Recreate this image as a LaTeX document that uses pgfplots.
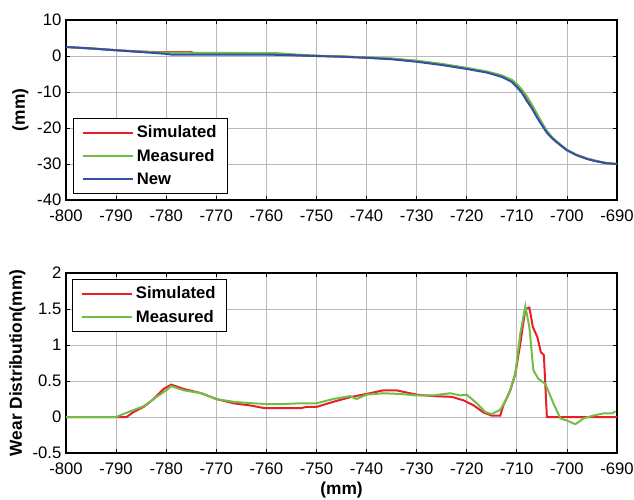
\documentclass[border=0pt]{standalone}
\usepackage{fontspec}
\setmainfont{Liberation Sans}
\usepackage{pgfplots}
\pgfplotsset{compat=1.18}

\definecolor{simred}{RGB}{232,30,40}
\definecolor{measgreen}{RGB}{112,190,70}
\definecolor{newblue}{RGB}{50,80,170}

\pgfplotsset{
  mlab/.style={
    scale only axis,
    width=413.25pt, height=135pt,
    xmin=-800, xmax=-690,
    xtick={-800,-790,...,-690},
    grid=major,
    grid style={gray!55, line width=0.5pt},
    tick align=inside,
    major tick length=3pt,
    axis line style={line width=0.8pt},
    tick style={black, line width=0.6pt},
    /pgf/number format/assume math mode=true,
    tick label style={font=\fontsize{12.5}{14}\selectfont},
    xticklabel style={yshift=-3.5pt},
    legend cell align=left,
    legend style={draw=black, line width=0.8pt, fill=white,
      font=\bfseries\fontsize{12.5}{14}\selectfont,
      inner xsep=6pt, inner ysep=3.5pt, row sep=3pt},
    legend image code/.code={\draw[#1,line width=1.5pt] (0pt,0pt) -- (38pt,0pt);},
  }
}

\begin{document}
\begin{tikzpicture}
\useasboundingbox (0,0) rectangle (475.5pt,374.25pt);

% top: profiles
\begin{axis}[mlab, at={(49.5pt,224.25pt)}, anchor=south west,
  ymin=-40, ymax=10, ytick={-40,-30,...,10},
  ylabel={(mm)},
  every axis y label/.style={at={(axis description cs:-0.0826,0.5)},rotate=90,anchor=center,
    font=\bfseries\fontsize{13}{15}\selectfont},
  legend style={at={(axis description cs:0.0127,0.033)}, anchor=south west},
]
\addplot[simred, line width=1.5pt] coordinates {
 (-800,2.5)(-795,2.1)(-790,1.6)(-786,1.3)(-782,1.1)(-775,1.1)(-774,0.6)(-760,0.5)
 (-754,0.2)(-750,0)(-745,-0.15)(-740,-0.45)(-735,-0.8)(-730,-1.4)(-725,-2.3)
 (-720,-3.4)(-716,-4.4)(-713,-5.5)(-711,-6.8)(-710,-8.0)(-709,-9.6)(-708,-11.6)
 (-707,-13.8)(-706,-16.3)(-705,-18.7)(-704,-21)(-703,-22.6)(-702,-23.9)(-700,-26.1)
 (-698,-27.5)(-696,-28.5)(-694,-29.2)(-692,-29.8)(-690,-30)
};
\addlegendentry{Simulated}
\addplot[measgreen, line width=1.5pt] coordinates {
 (-800,2.5)(-795,2.1)(-790,1.6)(-786,1.2)(-782,1.0)(-775,0.9)(-758,0.8)(-754,0.4)
 (-750,0.1)(-745,-0.1)(-740,-0.4)(-735,-0.7)(-730,-1.3)(-725,-2.2)(-720,-3.3)
 (-716,-4.3)(-713,-5.4)(-711,-6.6)(-710,-7.8)(-709,-9.3)(-708,-11.2)(-707,-13.5)
 (-706,-16)(-705,-18.5)(-704,-20.8)(-703,-22.5)(-702,-23.8)(-700,-26.1)(-698,-27.5)
 (-696,-28.5)(-694,-29.2)(-692,-29.8)(-690,-30)
};
\addlegendentry{Measured}
\addplot[newblue, line width=1.5pt] coordinates {
 (-800,2.5)(-795,2.1)(-790,1.6)(-785,1.1)(-780,0.6)(-779,0.4)(-760,0.4)(-754,0.2)
 (-750,0)(-745,-0.2)(-740,-0.5)(-735,-0.9)(-730,-1.6)(-725,-2.5)(-720,-3.6)
 (-716,-4.6)(-713,-5.8)(-711,-7.2)(-710,-8.6)(-709,-10.2)(-708,-12.5)(-707,-14.5)
 (-706,-17)(-705,-19.2)(-704,-21.3)(-703,-22.8)(-702,-24)(-700,-26.2)(-698,-27.6)
 (-696,-28.6)(-694,-29.3)(-692,-29.8)(-690,-30)
};
\addlegendentry{New}
\end{axis}

% bottom: wear distribution
\begin{axis}[mlab, at={(49.5pt,34.5pt)}, anchor=south west,
  ymin=-0.5, ymax=2, ytick={-0.5,0,0.5,1,1.5,2},
  yticklabel style={/pgf/number format/fixed},
  ylabel={Wear Distribution(mm)},
  xlabel={(mm)},
  every axis y label/.style={at={(axis description cs:-0.088,0.5)},rotate=90,anchor=center,
    font=\bfseries\fontsize{13}{15}\selectfont},
  every axis x label/.style={at={(axis description cs:0.5,0)},yshift=-27.75pt,anchor=center,
    font=\bfseries\fontsize{13}{15}\selectfont},
  legend style={at={(axis description cs:0.011,0.967)}, anchor=north west},
]
\addplot[simred, line width=1.5pt] coordinates {
 (-800,0)(-790,0)(-787.9,0)(-786.5,0.07)(-784.5,0.14)(-782.5,0.25)(-780.5,0.39)
 (-779,0.45)(-776.5,0.39)(-773,0.33)(-770,0.25)(-766.5,0.19)(-763.2,0.16)
 (-760.5,0.125)(-753,0.125)(-752,0.14)(-750,0.14)(-746.7,0.21)(-743,0.28)
 (-740,0.32)(-736.7,0.37)(-734,0.37)(-730,0.31)(-726.7,0.29)(-723,0.28)
 (-720.6,0.23)(-718.6,0.16)(-716.6,0.06)(-715,0.02)(-713.3,0.02)(-712.7,0.16)
 (-711.3,0.37)(-710.3,0.6)(-709.3,1.02)(-708.3,1.5)(-707.5,1.52)(-706.8,1.25)
 (-705.9,1.11)(-705.2,0.9)(-704.6,0.86)(-704,0)(-690,0)
};
\addlegendentry{Simulated}
\addplot[measgreen, line width=1.5pt] coordinates {
 (-800,0)(-790,0)(-787.9,0.06)(-784.5,0.15)(-781.9,0.28)(-780,0.37)(-779,0.43)
 (-776.5,0.37)(-773,0.33)(-770,0.25)(-766.5,0.21)(-762.5,0.19)(-760,0.18)
 (-756.7,0.18)(-753.3,0.19)(-750,0.19)(-746.7,0.25)(-743.3,0.29)(-742,0.25)
 (-740,0.31)(-736.7,0.33)(-733.3,0.32)(-730,0.3)(-726.7,0.3)(-723.3,0.33)
 (-721.3,0.3)(-720,0.31)(-718,0.19)(-716.3,0.07)(-715,0.04)(-713.3,0.1)
 (-711.7,0.3)(-710.3,0.6)(-709.3,1.16)(-708.3,1.54)(-707.5,1.25)(-706.7,0.65)
 (-705.7,0.53)(-704.3,0.46)(-702.7,0.19)(-701.3,-0.02)(-700,-0.05)(-698.3,-0.1)
 (-696.7,-0.02)(-694.7,0.02)(-692.7,0.05)(-691,0.05)(-690.3,0.08)
};
\addlegendentry{Measured}
\end{axis}
\end{tikzpicture}
\end{document}
